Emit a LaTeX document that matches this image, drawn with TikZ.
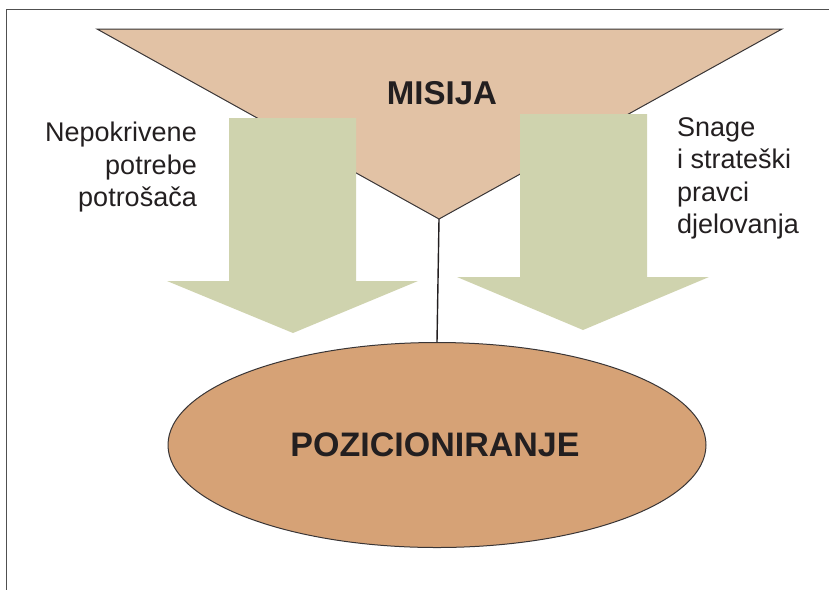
\documentclass[tikz,border=0pt]{standalone}
\usepackage{fontspec}
\setmainfont{Liberation Sans}
\usetikzlibrary{shapes.geometric}
\definecolor{misijafill}{HTML}{E2C2A5}
\definecolor{arrowfill}{HTML}{CFD3AE}
\definecolor{ellfill}{HTML}{D6A276}
\definecolor{ink}{HTML}{231F20}
\definecolor{framegray}{HTML}{505050}
\tikzset{
  outline/.style={draw=ink!90, line width=1pt},
  bigarrow/.style={fill=arrowfill, draw=none},
  sidetext/.style={inner sep=0pt, text=ink, font=\fontsize{27}{32.5}\selectfont},
  titletext/.style={inner sep=0pt, text=ink, font=\bfseries\fontsize{33}{38}\selectfont},
}
\begin{document}
\begin{tikzpicture}[x=1pt,y=-1pt]
\useasboundingbox (0,0) rectangle (829,590);
% frame
\draw[framegray, line width=1.8pt] (829,9.5) -- (6.5,9.5) -- (6.5,590);
% mission triangle
\coordinate (tl) at (97,29);
\coordinate (tr) at (782,29);
\coordinate (apex) at (439,219);
\path[fill=misijafill, outline, line join=miter] (tl) -- (tr) -- (apex) -- cycle;
% arrows
\path[bigarrow] (229,118) -- (356,118) -- (356,281) -- (418,281) -- (293,333) -- (167,281) -- (229,281) -- cycle;
\path[bigarrow] (520,114) -- (647,114) -- (647,277) -- (709,277) -- (583,330) -- (457,277) -- (520,277) -- cycle;
% ellipse
\node[ellipse, fill=ellfill, outline, minimum width=538pt, minimum height=205pt, inner sep=0pt] (poz) at (437,445) {};
\node[titletext, font=\bfseries\fontsize{34}{38}\selectfont] (poztxt) at (435,445) {POZICIONIRANJE};
\draw[ink, line width=1.4pt] (apex) -- (poz.north);
% labels
\node[titletext] (misija) at (442,93) {MISIJA};
\node[sidetext, align=right, anchor=north east] (left) at (197,122) {Nepokrivene\\potrebe\\potrošača};
\node[sidetext, align=left, anchor=north west] (right) at (677,117) {Snage\\i strateški\\pravci\\djelovanja};
\end{tikzpicture}
\end{document}
